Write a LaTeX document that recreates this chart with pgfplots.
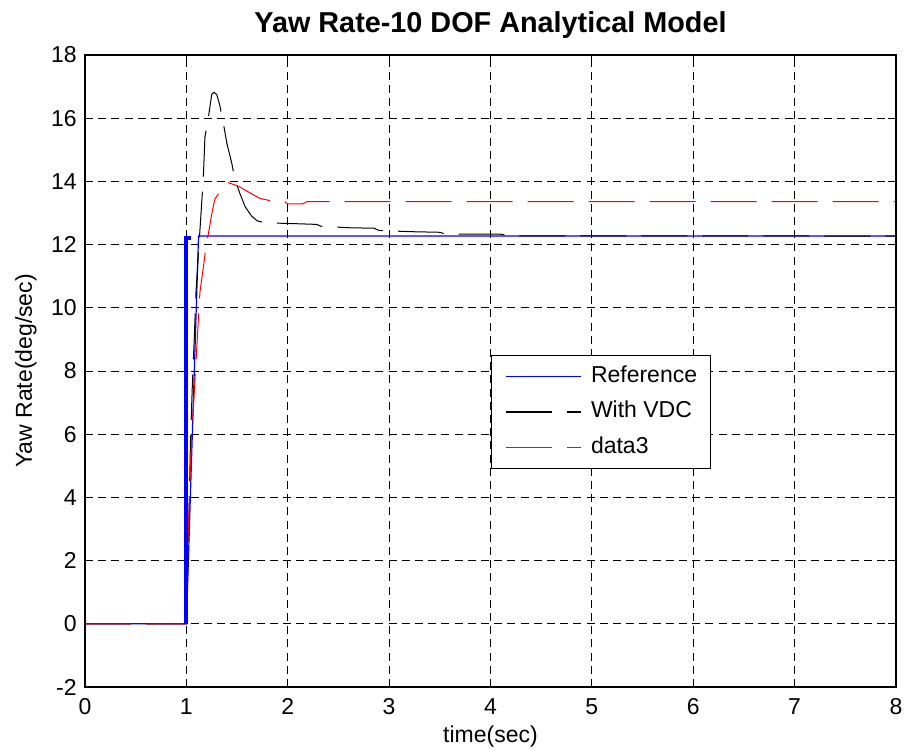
\documentclass[border=0pt]{standalone}
\usepackage{pgfplots}
\pgfplotsset{compat=1.18}
\usepackage{fontspec}
\setmainfont{Liberation Sans}
\begin{document}
\begin{tikzpicture}
\begin{axis}[name=ax,
  scale only axis, width=405.5pt, height=316pt,
  xmin=0, xmax=8, ymin=-2, ymax=18,
  xtick={0,1,2,3,4,5,6,7,8},
  xticklabels={0,1,2,3,4,5,6,7,8},
  ytick={-2,0,2,4,6,8,10,12,14,16,18},
  yticklabels={-2,0,2,4,6,8,10,12,14,16,18},
  tick align=inside, major tick length=4pt,
  tick style={black, line width=0.5pt},
  axis line style={line width=0.6pt},
  grid=major,
  major grid style={black, line width=0.45pt, dash pattern=on 4pt off 2.6pt},
  font=\fontsize{11.5}{13}\selectfont,
  xticklabel style={inner sep=0pt, anchor=north, yshift=-5.5pt},
  yticklabel style={inner sep=0pt, anchor=east, xshift=-4pt},
  title={\bfseries Yaw Rate-10 DOF Analytical Model},
  title style={at={(axis description cs:0.5,1.0174)}, anchor=base, inner sep=0pt, font=\fontsize{14.4}{16}\selectfont},
  xlabel={time(sec)},
  xlabel style={at={(axis description cs:0.5,-0.0886)}, anchor=base, inner sep=0pt},
  ylabel={Yaw Rate(deg/sec)},
  ylabel style={at={(axis description cs:-0.06535,0.5)}, anchor=base, inner sep=0pt},
  legend style={at={(0.501,0.5255)}, anchor=north west, draw=black, line width=0.5pt,
    font=\fontsize{11.5}{13}\selectfont, inner xsep=6.8pt, inner ysep=5pt, row sep=6.8pt,
    nodes={inner sep=0pt, text height=8.5pt, text depth=2.5pt},
    /tikz/every odd column/.append style={column sep=4.6pt}},
  legend cell align=left,
  legend image code/.code={\draw[#1, line width=0.7pt] (0pt,0pt) -- (37.5pt,0pt);},
]
\addplot[blue, line width=0.6pt] coordinates {(0,0) (1,0) (1.12,12.27) (8,12.27)};
\addlegendentry{Reference}
\addplot[black, line width=0.5pt, dash pattern=on 23pt off 7.5pt] coordinates {
(0,0) (1,0) (1.019,2.3) (1.04,5.7) (1.058,7.47) (1.078,9.05) (1.095,10.5) (1.13,12.27)
(1.167,14.1) (1.183,15.4) (1.216,16.0) (1.25,16.75) (1.27,16.82) (1.30,16.75) (1.33,16.4)
(1.364,15.85) (1.40,15.2) (1.447,14.59) (1.479,14.06) (1.53,13.6) (1.58,13.2) (1.644,12.9)
(1.70,12.75) (1.775,12.69) (2.0,12.67) (2.285,12.64) (2.33,12.58) (2.45,12.56) (2.63,12.53)
(2.85,12.52) (2.90,12.45) (3.04,12.43) (3.2,12.41) (3.5,12.39) (3.55,12.34) (3.8,12.33)
(4.1,12.33) (4.17,12.28) (8,12.27)};
\addlegendentry{With VDC}
\addplot[red, line width=0.5pt, dash pattern=on 23pt off 7.5pt] coordinates {
(0,0) (1,0) (1.009,1.9) (1.03,4.0) (1.052,5.9) (1.085,7.7) (1.108,9.05) (1.134,10.5)
(1.167,11.27) (1.2,12.1) (1.216,12.32) (1.25,12.96) (1.28,13.43) (1.364,13.85) (1.414,13.96)
(1.512,13.85) (1.627,13.64) (1.726,13.46) (1.874,13.36) (1.97,13.36) (1.995,13.29)
(2.15,13.29) (2.19,13.36) (8,13.36)};
\addlegendentry{data3}
\addplot[blue, line width=2pt, forget plot] coordinates {(1,0) (1,12.2) (1.05,12.2)};
\end{axis}
\pgfresetboundingbox
\path (ax.south west) ++(-42.5pt,-31.5pt) rectangle ([xshift=6.5pt,yshift=27.5pt]ax.north east);
\end{tikzpicture}
\end{document}
